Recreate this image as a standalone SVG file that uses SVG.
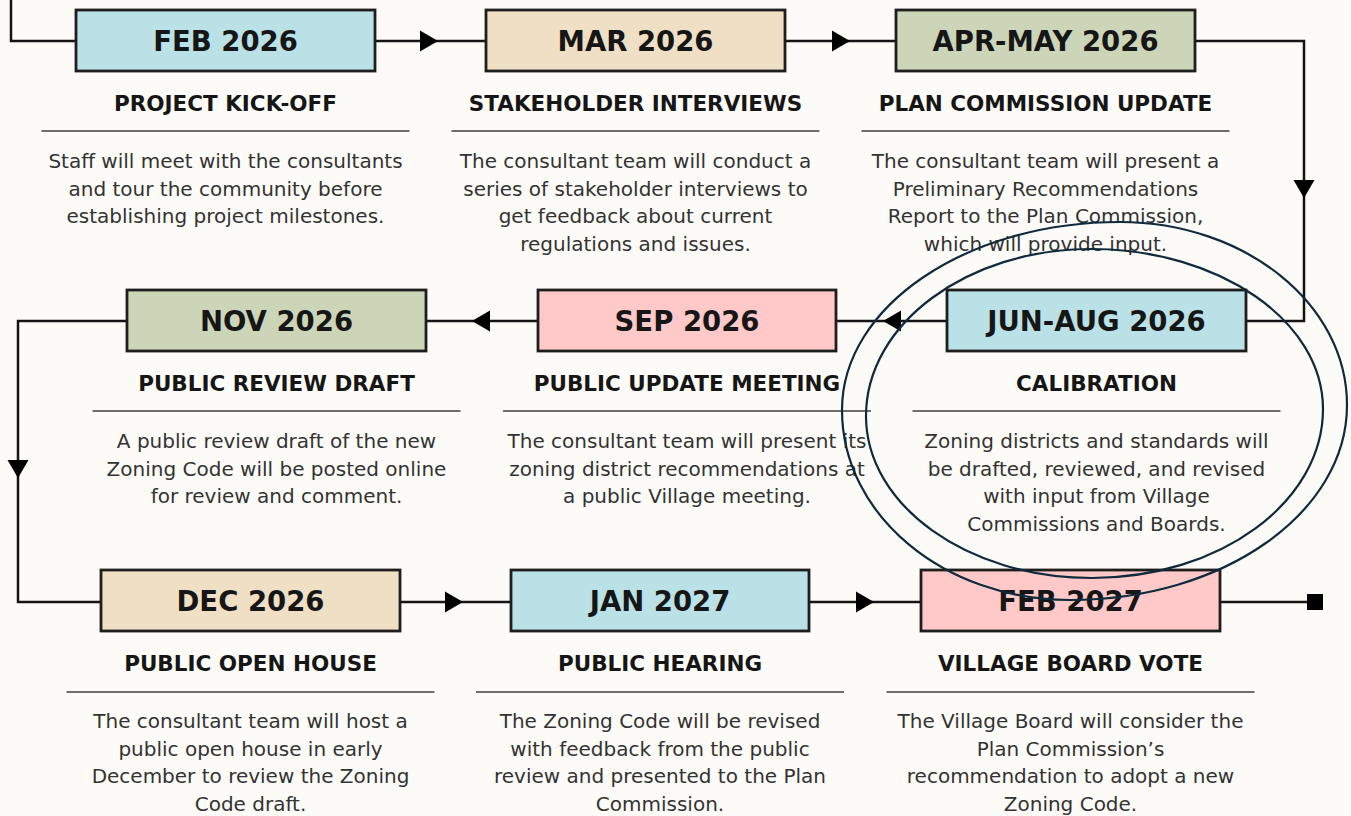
<svg xmlns="http://www.w3.org/2000/svg" xmlns:xlink="http://www.w3.org/1999/xlink" width="1351" height="816" viewBox="0 0 1351 816">
<defs>
<style>
.bg{fill:#fdfbf7}
.box{stroke:#1e1e1e;stroke-width:2.8}
.blue{fill:#b9e1e6}
.tan{fill:#efdfc5}
.sage{fill:#cdd5b9}
.pink{fill:#ffc9c9}
.lbl{font-family:"DejaVu Sans","Liberation Sans",sans-serif;font-weight:bold;font-size:27.5px;fill:#161616;text-anchor:middle}
.ttl{font-family:"DejaVu Sans","Liberation Sans",sans-serif;font-weight:bold;font-size:21.5px;fill:#161616;text-anchor:middle}
.body{font-family:"DejaVu Sans","Liberation Sans",sans-serif;font-size:20px;fill:#333333;text-anchor:middle}
.rule{stroke:#6e6e6e;stroke-width:2;fill:none}
.conn{stroke:#141414;stroke-width:2.5;fill:none}
.ah{fill:#000}
.circ{fill:none;stroke:#0f2a3a;stroke-width:2.2}
</style>
<polygon id="ahR" points="0,-10.5 18,0 0,10.5"/>
</defs>
<rect class="bg" x="0" y="0" width="1351" height="816"/>

<g id="connectors">
<path class="conn" d="M11,0 V41 H76"/>
<path class="conn" d="M375,41 H486"/>
<path class="conn" d="M785,41 H896"/>
<path class="conn" d="M1195,41 H1304 V321 H1246"/>
<path class="conn" d="M947,321 H836"/>
<path class="conn" d="M538,321 H426"/>
<path class="conn" d="M127,321 H18 V602 H101"/>
<path class="conn" d="M400,602 H511"/>
<path class="conn" d="M809,602 H921"/>
<path class="conn" d="M1220,602 H1315"/>
<use class="ah" href="#ahR" transform="translate(420,41)"/>
<use class="ah" href="#ahR" transform="translate(832,41)"/>
<use class="ah" href="#ahR" transform="translate(1304,180) rotate(90)"/>
<use class="ah" href="#ahR" transform="translate(901,321) rotate(180)"/>
<use class="ah" href="#ahR" transform="translate(490,321) rotate(180)"/>
<use class="ah" href="#ahR" transform="translate(18,460) rotate(90)"/>
<use class="ah" href="#ahR" transform="translate(445,602)"/>
<use class="ah" href="#ahR" transform="translate(856,602)"/>
<rect x="1307" y="594" width="16" height="16" fill="#000"/>
</g>

<g id="node-feb2026">
<rect class="box blue" x="76" y="10" width="299" height="61"/>
<text class="lbl" x="225.5" y="51">FEB 2026</text>
<text class="ttl" x="225.5" y="111">PROJECT KICK-OFF</text>
<line class="rule" x1="41.5" y1="131" x2="409.5" y2="131"/>
<text class="body" x="225.5" y="168">Staff will meet with the consultants</text>
<text class="body" x="225.5" y="195.5">and tour the community before</text>
<text class="body" x="225.5" y="223">establishing project milestones.</text>
</g>

<g id="node-mar2026">
<rect class="box tan" x="486" y="10" width="299" height="61"/>
<text class="lbl" x="635.5" y="51">MAR 2026</text>
<text class="ttl" x="635.5" y="111">STAKEHOLDER INTERVIEWS</text>
<line class="rule" x1="451.5" y1="131" x2="819.5" y2="131"/>
<text class="body" x="635.5" y="168">The consultant team will conduct a</text>
<text class="body" x="635.5" y="195.5">series of stakeholder interviews to</text>
<text class="body" x="635.5" y="223">get feedback about current</text>
<text class="body" x="635.5" y="250.5">regulations and issues.</text>
</g>

<g id="node-aprmay2026">
<rect class="box sage" x="896" y="10" width="299" height="61"/>
<text class="lbl" x="1045.5" y="51">APR-MAY 2026</text>
<text class="ttl" x="1045.5" y="111">PLAN COMMISSION UPDATE</text>
<line class="rule" x1="861.5" y1="131" x2="1229.5" y2="131"/>
<text class="body" x="1045.5" y="168">The consultant team will present a</text>
<text class="body" x="1045.5" y="195.5">Preliminary Recommendations</text>
<text class="body" x="1045.5" y="223">Report to the Plan Commission,</text>
<text class="body" x="1045.5" y="250.5">which will provide input.</text>
</g>

<g id="node-junaug2026">
<rect class="box blue" x="947" y="290" width="299" height="61"/>
<text class="lbl" x="1096.5" y="331">JUN-AUG 2026</text>
<text class="ttl" x="1096.5" y="391">CALIBRATION</text>
<line class="rule" x1="912.5" y1="411" x2="1280.5" y2="411"/>
<text class="body" x="1096.5" y="448">Zoning districts and standards will</text>
<text class="body" x="1096.5" y="475.5">be drafted, reviewed, and revised</text>
<text class="body" x="1096.5" y="503">with input from Village</text>
<text class="body" x="1096.5" y="530.5">Commissions and Boards.</text>
</g>

<g id="node-sep2026">
<rect class="box pink" x="538" y="290" width="298" height="61"/>
<text class="lbl" x="687" y="331">SEP 2026</text>
<text class="ttl" x="687" y="391">PUBLIC UPDATE MEETING</text>
<line class="rule" x1="503" y1="411" x2="871" y2="411"/>
<text class="body" x="687" y="448">The consultant team will present its</text>
<text class="body" x="687" y="475.5">zoning district recommendations at</text>
<text class="body" x="687" y="503">a public Village meeting.</text>
</g>

<g id="node-nov2026">
<rect class="box sage" x="127" y="290" width="299" height="61"/>
<text class="lbl" x="276.5" y="331">NOV 2026</text>
<text class="ttl" x="276.5" y="391">PUBLIC REVIEW DRAFT</text>
<line class="rule" x1="92.5" y1="411" x2="460.5" y2="411"/>
<text class="body" x="276.5" y="448">A public review draft of the new</text>
<text class="body" x="276.5" y="475.5">Zoning Code will be posted online</text>
<text class="body" x="276.5" y="503">for review and comment.</text>
</g>

<g id="node-dec2026">
<rect class="box tan" x="101" y="570" width="299" height="61"/>
<text class="lbl" x="250.5" y="611">DEC 2026</text>
<text class="ttl" x="250.5" y="671">PUBLIC OPEN HOUSE</text>
<line class="rule" x1="66.5" y1="692" x2="434.5" y2="692"/>
<text class="body" x="250.5" y="728">The consultant team will host a</text>
<text class="body" x="250.5" y="755.5">public open house in early</text>
<text class="body" x="250.5" y="783">December to review the Zoning</text>
<text class="body" x="250.5" y="810.5">Code draft.</text>
</g>

<g id="node-jan2027">
<rect class="box blue" x="511" y="570" width="298" height="61"/>
<text class="lbl" x="660" y="611">JAN 2027</text>
<text class="ttl" x="660" y="671">PUBLIC HEARING</text>
<line class="rule" x1="476" y1="692" x2="844" y2="692"/>
<text class="body" x="660" y="728">The Zoning Code will be revised</text>
<text class="body" x="660" y="755.5">with feedback from the public</text>
<text class="body" x="660" y="783">review and presented to the Plan</text>
<text class="body" x="660" y="810.5">Commission.</text>
</g>

<g id="node-feb2027">
<rect class="box pink" x="921" y="570" width="299" height="61"/>
<text class="lbl" x="1070.5" y="611">FEB 2027</text>
<text class="ttl" x="1070.5" y="671">VILLAGE BOARD VOTE</text>
<line class="rule" x1="886.5" y1="692" x2="1254.5" y2="692"/>
<text class="body" x="1070.5" y="728">The Village Board will consider the</text>
<text class="body" x="1070.5" y="755.5">Plan Commission’s</text>
<text class="body" x="1070.5" y="783">recommendation to adopt a new</text>
<text class="body" x="1070.5" y="810.5">Zoning Code.</text>
</g>

<g id="annotation">
<path class="circ" d="M1120,222 C1245,222 1347,304 1347,405 C1347,513 1223,600 1070,600 C944,600 842,515 842,410 C842,306 967,222 1120,222 Z"/>
<path class="circ" d="M1091,249 C1219,249 1323,321 1323,409 C1323,502 1220,578 1092,578 C967,578 866,505 866,416 C866,324 967,249 1091,249 Z"/>
</g>
</svg>
